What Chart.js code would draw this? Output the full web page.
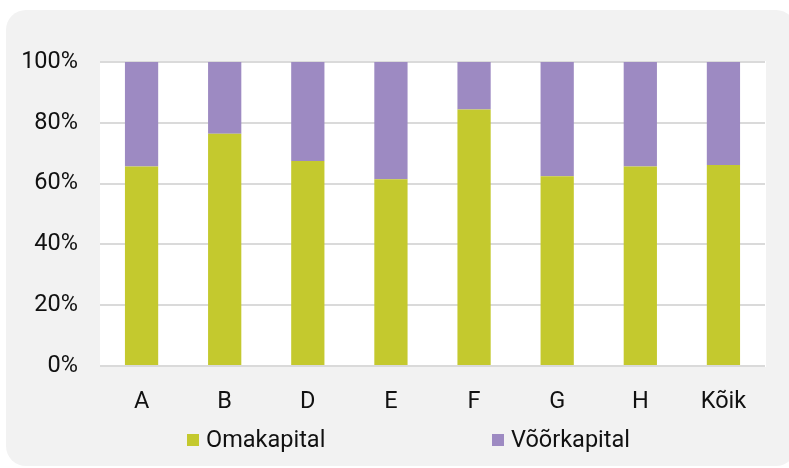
<!DOCTYPE html>
<html>
<head>
<meta charset="utf-8">
<script src="https://cdn.jsdelivr.net/npm/chart.js@4"></script>
<style>
  html, body { margin: 0; padding: 0; background: #fff; }
  canvas { display: block; }
</style>
</head>
<body>
<canvas id="barChart" width="789" height="468"></canvas>
<script>
const categories = ['A', 'B', 'D', 'E', 'F', 'G', 'H', 'Kõik'];
const omakapital = [65.6, 76.4, 67.4, 61.4, 84.4, 62.4, 65.6, 66.1];
const voorkapital = [34.4, 23.6, 32.6, 38.6, 15.6, 37.6, 34.4, 33.9];
const yTicks = [0, 20, 40, 60, 80, 100];

const FONT = 'Roboto, "Noto Sans", sans-serif';

// gray rounded panel + white plot area
const panelBg = {
  id: 'panelBg',
  beforeDraw(chart) {
    const ctx = chart.ctx;
    const a = chart.chartArea;
    ctx.save();
    ctx.fillStyle = '#F2F2F2';
    ctx.beginPath();
    ctx.roundRect(6, 10, 790, 456, 20);
    ctx.fill();
    ctx.fillStyle = '#FFFFFF';
    ctx.fillRect(a.left, a.top - 1, a.right - a.left + 1, a.bottom - a.top + 2);
    ctx.restore();
  }
};

// legend drawn by hand, items spread wide like the original
const wideLegend = {
  id: 'wideLegend',
  afterDraw(chart) {
    const ctx = chart.ctx;
    const starts = [187, 492];
    ctx.save();
    ctx.font = '23.5px ' + FONT;
    ctx.textBaseline = 'middle';
    chart.data.datasets.forEach((ds, i) => {
      ctx.fillStyle = ds.backgroundColor;
      ctx.fillRect(starts[i], 434, 12, 12);
      ctx.fillStyle = '#111';
      ctx.fillText(ds.label, starts[i] + 19, 441);
    });
    ctx.restore();
  }
};

new Chart(document.getElementById('barChart').getContext('2d'), {
  type: 'bar',
  data: {
    labels: categories,
    datasets: [
      { label: 'Omakapital', data: omakapital, backgroundColor: '#C4C92E' },
      { label: 'Võõrkapital', data: voorkapital, backgroundColor: '#9D8AC2' }
    ]
  },
  options: {
    responsive: false,
    animation: false,
    layout: { padding: { top: 62, right: 24, bottom: 60, left: 0 } },
    datasets: { bar: { barPercentage: 0.4, categoryPercentage: 1 } },
    plugins: {
      legend: { display: false },
      tooltip: { enabled: false }
    },
    scales: {
      x: {
        stacked: true,
        grid: { display: false },
        border: { display: false },
        ticks: { color: '#111', font: { family: FONT, size: 23.5 }, padding: 14 },
        afterFit: s => { s.height = 42; }
      },
      y: {
        stacked: true,
        min: 0,
        max: 100,
        afterBuildTicks: s => { s.ticks = yTicks.map(v => ({ value: v })); },
        grid: { color: '#DADADA', lineWidth: 2, drawTicks: false },
        border: { display: false },
        ticks: {
          color: '#111',
          font: { family: FONT, size: 23.5 },
          padding: 22,
          callback: v => v + '%'
        },
        afterFit: s => { s.width = 100; }
      }
    }
  },
  plugins: [panelBg, wideLegend]
});
</script>
</body>
</html>
